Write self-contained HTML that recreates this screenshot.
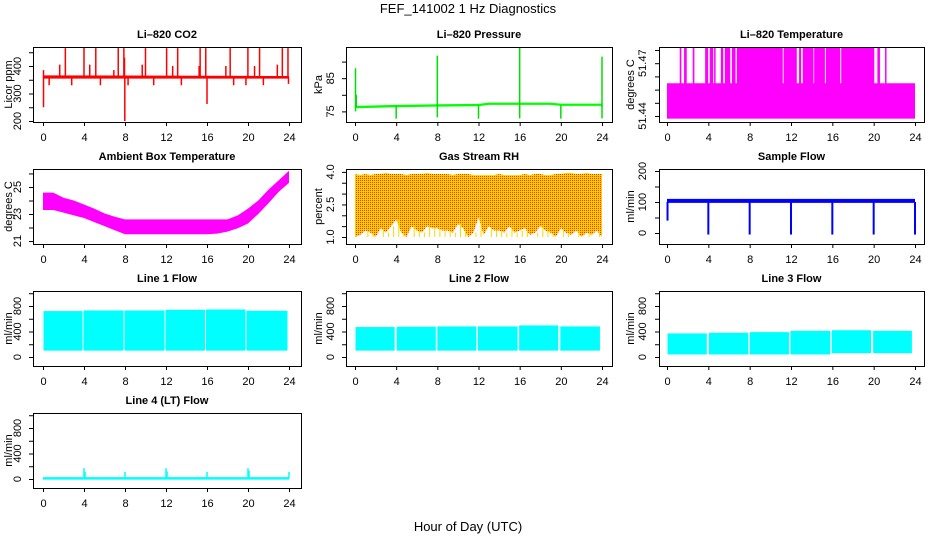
<!DOCTYPE html>
<html><head><meta charset="utf-8"><style>
html,body{margin:0;padding:0;background:#fff;}
svg{display:block;font-family:"Liberation Sans",sans-serif;}
</style></head><body>
<svg id="chart" width="936" height="540" viewBox="0 0 936 540">
<defs>
<pattern id="rhPat" width="2" height="2" patternUnits="userSpaceOnUse">
<rect width="2" height="2" fill="#ffd000"/><rect width="1" height="1" fill="#ff3000"/>
</pattern>
</defs>
<text x="468" y="13" font-size="13" text-anchor="middle">FEF_141002  1 Hz Diagnostics</text>
<text x="468" y="531" font-size="13" text-anchor="middle">Hour of Day (UTC)</text>
</svg>
<script>
// ---- data ----
const xTicks=[0,4,8,12,16,20,24];
// CO2
const co2BaseTimes=[0,24];
const co2BaseLow=[354,354];
const co2BaseHigh=[366,364];
const co2UpTimes=[2.18,4.0,5.15,7.34,7.89,10.0,12.06,13.14,15.33,15.88,18.26,19.99,21.13,23.35,23.9,1.63,4.56,6.91,9.68,12.65,15.23,17.84,20.64,22.86,7.95,0.05];
const co2UpValues=[465,468,465,465,465,465,465,465,465,465,465,468,465,465,465,405,405,385,405,400,400,400,400,405,430,385];
const co2DownTimes=[0.05,0.6,2.8,5.6,7.98,8.3,10.8,13.5,16.0,18.6,19.8,21.5,23.95];
const co2DownValues=[250,330,330,330,200,330,330,330,262,330,330,330,335];
const co2Ticks=[200,250,300,350,400,450];
const co2Labels=["200","","300","","400",""];
// Pressure
const presTimes=[0,4,8,12,13,16,19,20,24];
const presBase=[76.3,76.6,76.8,76.9,77.3,77.3,77.3,77.0,77.0];
const presUpTimes=[0.05,8.0,16.0,24.0,0.12];
const presUpValues=[88,91.8,94.4,91.5,80];
const presDownTimes=[0.05,4,8,12,16,20,24];
const presDownValues=[75,72.8,73.2,72.8,72.9,72.8,72.9];
const presTicks=[75,80,85,90];
const presLabels=["75","","85",""];
// Li-820 temperature
const tempLow=51.4586;
const tempHigh=51.479;
const tempHighStart=[1.23,1.65,2.49,3.69,4.14,4.56,5.21,5.6,6.28,6.76,11.29,12.78,13.14,14.24,15.37,16.86,20.36,21.1];
const tempHighEnd=[1.39,1.91,2.65,3.98,4.47,4.66,5.44,6.12,6.63,11.2,12.56,12.98,14.17,15.28,16.76,20.06,20.61,21.2];
const tempTicks=[51.44,51.4475,51.455,51.4625,51.47,51.4775];
const tempLabels=["51.44","","","","51.47",""];
// Ambient box temperature
const ambTimes=[0,1,2,3,4,5,6,7,8,9,10,11,12,13,14,15,16,17,18,19,20,21,22,23,24];
const ambHigh=[24.58,24.58,24.2,24.0,23.7,23.4,23.05,22.8,22.6,22.6,22.6,22.6,22.6,22.6,22.6,22.6,22.6,22.6,22.6,22.9,23.4,24.0,24.8,25.5,26.2];
const ambLow=[23.3,23.3,23.1,22.9,22.7,22.4,22.1,21.8,21.5,21.5,21.5,21.5,21.5,21.5,21.5,21.5,21.5,21.55,21.7,21.95,22.3,23.0,23.8,24.65,25.3];
const ambTicks=[21,22,23,24,25,26];
const ambLabels=["21","","23","","25",""];
// Gas stream RH
const rhTimes=[0,0.5,1,1.5,2,2.5,3,3.5,4,4.5,5,5.5,6,6.5,7,7.5,8,8.5,9,9.5,10,10.5,11,11.5,12,12.5,13,13.5,14,14.5,15,15.5,16,16.5,17,17.5,18,18.5,19,19.5,20,20.5,21,21.5,22,22.5,23,23.5,24];
const rhLow=[1.0,1.1,1.3,1.2,1.0,1.4,1.2,1.5,1.8,1.2,1.0,1.5,1.3,1.2,1.5,1.4,1.4,1.3,1.3,1.2,1.6,1.4,1.0,1.2,1.9,1.1,1.5,1.3,1.3,1.2,1.5,1.2,1.3,1.4,1.1,1.2,1.5,1.3,1.2,1.0,1.4,1.2,1.1,1.3,1.0,1.2,1.1,1.3,1.0];
const rhTop=[3.9,3.85,3.9,3.85,3.9,3.9,3.95,3.9,3.9,3.9,3.85,3.9,3.9,3.9,3.95,3.9,3.9,3.9,3.9,3.85,3.9,3.9,3.9,3.85,3.85,3.85,3.85,3.85,3.9,3.85,3.85,3.85,3.85,3.9,3.85,3.9,3.9,3.85,3.85,3.9,3.9,3.95,3.95,3.9,3.9,3.95,3.9,3.9,3.9];
const rhTicks=[1.0,1.5,2.0,2.5,3.0,3.5,4.0];
const rhLabels=["1.0","","","2.5","","","4.0"];
// Sample flow
const sfBaseLow=97;
const sfBaseHigh=110;
const sfDropTimes=[0.05,4,8,12,16,20,24];
const sfDropValues=[40,-5,-5,-5,-5,-5,-5];
const sfTicks=[0,50,100,150,200];
const sfLabels=["0","","100","","200"];
// Line flows
const flowTicks=[0,200,400,600,800,1000];
const flowLabels=["0","","400","","800",""];
const l1Start=[0.05,3.95,7.95,11.95,15.9,19.85];
const l1End=[3.85,7.85,11.85,15.8,19.75,23.85];
const l1Top=[720,730,730,740,745,725];
const l1Bottom=[100,100,100,100,100,100];
const l2Start=[0.05,4.05,8.0,11.95,15.95,19.95];
const l2End=[3.85,7.85,11.8,15.8,19.75,23.8];
const l2Top=[470,475,480,480,495,480];
const l2Bottom=[100,100,100,100,100,100];
const l3Start=[0.05,4.05,8.0,11.95,15.95,19.95];
const l3End=[3.85,7.85,11.8,15.8,19.75,23.7];
const l3Top=[370,380,390,410,420,410];
const l3Bottom=[40,40,40,40,60,60];
const l4BaseLow=-10;
const l4BaseHigh=30;
const l4SpikeTimes=[4.0,4.1,8.0,12.0,12.1,16.0,20.0,20.1,24.0];
const l4SpikeValues=[170,110,110,170,120,110,170,130,110];

// ---- layout ----
const NS="http://www.w3.org/2000/svg";
const svg=document.getElementById('chart');
const cols=[{L:33,R:301,x0:43,x24:289,lab:21,tit:12},{L:346,R:612,x0:355,x24:602,lab:334,tit:322},{L:659,R:924,x0:667,x24:915,lab:646,tit:634}];
function el(parent,tag,attrs){const e=document.createElementNS(NS,tag);for(const k in attrs)e.setAttribute(k,attrs[k]);parent.appendChild(e);return e;}

function panel(name,col,row,title,ytitle,ymin,ymax,ticks,labels){
  const c=cols[col];const T=47+row*122,B=T+75;
  const g=el(svg,'g',{});
  
  
  const sx=t=>c.x0+t/24*(c.x24-c.x0);
  const sy=v=>B-(v-ymin)/(ymax-ymin)*(B-T);
  const plot=el(g,'g',{});
  
  
  const frame=el(g,'g',{});
  
  
  const box=el(frame,'rect',{x:c.L+0.5,y:T+0.5,width:c.R-c.L,height:B-T,fill:'none',stroke:'#000'});
  
  
  el(frame,'line',{x1:sx(0),x2:sx(24),y1:B+0.5,y2:B+0.5,stroke:'#000'});
  xTicks.forEach(t=>{
    el(frame,'line',{x1:sx(t)+0.5,x2:sx(t)+0.5,y1:B,y2:B+4,stroke:'#000'});
    const tx=el(frame,'text',{x:sx(t)+0.5,y:B+19,'font-size':11,'text-anchor':'middle'});
    tx.textContent=t;
    
    
  });
  ticks.forEach((v,i)=>{
    el(frame,'line',{x1:c.L-4,x2:c.L,y1:sy(v)+0.5,y2:sy(v)+0.5,stroke:'#000'});
    if(labels[i]){
      const tx=el(frame,'text',{x:c.lab,y:sy(v),'font-size':11,'text-anchor':'middle',transform:`rotate(-90 ${c.lab} ${sy(v)})`});
      tx.textContent=labels[i];
      
      
    }
  });
  const tt=el(frame,'text',{x:(c.L+c.R)/2,y:T-9,'font-size':11,'font-weight':'bold','text-anchor':'middle'});
  tt.textContent=title;
  
  
  const yt=el(frame,'text',{x:c.tit,y:(T+B)/2,'font-size':11,'text-anchor':'middle',transform:`rotate(-90 ${c.tit} ${(T+B)/2})`});
  yt.textContent=ytitle;
  
  
  return {g:plot,sx,sy};
}
function vbar(p,t,v1,v2,color,w,name){
  const y1=Math.min(p.sy(v1),p.sy(v2)),y2=Math.max(p.sy(v1),p.sy(v2));
  const r=el(p.g,'rect',{x:p.sx(t)-w/2,y:y1,width:w,height:Math.max(1,y2-y1),fill:color});
  
  
}
function band(p,times,lo,hi,fill,name){
  let d='M'+times.map((t,i)=>p.sx(t)+','+p.sy(hi[i])).join('L');
  for(let i=times.length-1;i>=0;i--)d+='L'+p.sx(times[i])+','+p.sy(lo[i]);
  const path=el(p.g,'path',{d:d+'Z',fill:fill});
  
  
}

// CO2
let p=panel('co2',0,0,'Li–820 CO2','Licor ppm',196.4,469.1,co2Ticks,co2Labels);
band(p,co2BaseTimes,co2BaseLow,co2BaseHigh,'#ff0000','co2-baseline');
co2UpTimes.forEach((t,i)=>vbar(p,t,360,co2UpValues[i],'#ff0000',1.5,'co2-spike'));
co2DownTimes.forEach((t,i)=>vbar(p,t,360,co2DownValues[i],'#ff0000',1.5,'co2-dip'));

// Pressure
p=panel('pressure',1,0,'Li–820 Pressure','kPa',71.8,94.4,presTicks,presLabels);
band(p,presTimes,presBase.map(v=>v-0.35),presBase.map(v=>v+0.35),'#00ff00','pressure-baseline');
presUpTimes.forEach((t,i)=>vbar(p,t,presBase[0],presUpValues[i],'#00e000',1.5,'pressure-spike'));
presDownTimes.forEach((t,i)=>vbar(p,t,76.8,presDownValues[i],'#00e000',1.5,'pressure-dip'));

// Li-820 temperature
p=panel('li820-temp',2,0,'Li–820 Temperature','degrees C',51.4366,51.4792,tempTicks,tempLabels);
{const r=el(p.g,'rect',{x:p.sx(0),y:p.sy(tempLow),width:p.sx(24)-p.sx(0),height:p.sy(51.4385)-p.sy(tempLow),fill:'#ff00ff'});

}
tempHighStart.forEach((s,i)=>{
  const r=el(p.g,'rect',{x:p.sx(s),y:p.sy(tempHigh),width:Math.max(1.5,p.sx(tempHighEnd[i])-p.sx(s)),height:p.sy(tempLow)-p.sy(tempHigh)+1,fill:'#ff00ff'});
  
  
});

// Ambient
p=panel('ambient-temp',0,1,'Ambient Box Temperature','degrees C',20.78,26.33,ambTicks,ambLabels);
band(p,ambTimes,ambLow,ambHigh,'#ff00ff','ambient-band');

// RH
p=panel('rh',1,1,'Gas Stream RH','percent',0.677,4.133,rhTicks,rhLabels);
band(p,rhTimes,rhLow,rhTop,'url(#rhPat)','rh-band');
rhTimes.forEach((t,i)=>{ if(rhLow[i]>1.1) vbar(p,t+0.25,rhLow[i],1.0,'#ffd800',1,'rh-dip'); });

// Sample flow
p=panel('sample-flow',2,1,'Sample Flow','ml/min',-35.5,206.5,sfTicks,sfLabels);
band(p,[0,24],[sfBaseLow,sfBaseLow],[sfBaseHigh,sfBaseHigh],'#0000ff','sample-flow-band');
sfDropTimes.forEach((t,i)=>vbar(p,t,100,sfDropValues[i],'#0000ff',2,'sample-flow-drop'));

// Line flows
function flowPanel(name,col,row,title,st,en,top,bot){
  const q=panel(name,col,row,title,'ml/min',-141,1035,flowTicks,flowLabels);
  st.forEach((s,i)=>{
    const r=el(q.g,'rect',{x:q.sx(s),y:q.sy(top[i]),width:q.sx(en[i])-q.sx(s),height:q.sy(bot[i])-q.sy(top[i]),fill:'#00ffff'});
    
    
  });
  return q;
}
flowPanel('line1-flow',0,2,'Line 1 Flow',l1Start,l1End,l1Top,l1Bottom);
flowPanel('line2-flow',1,2,'Line 2 Flow',l2Start,l2End,l2Top,l2Bottom);
flowPanel('line3-flow',2,2,'Line 3 Flow',l3Start,l3End,l3Top,l3Bottom);
p=panel('line4-flow',0,3,'Line 4 (LT) Flow','ml/min',-141,1035,flowTicks,flowLabels);
band(p,[0,24],[l4BaseLow,l4BaseLow],[l4BaseHigh,l4BaseHigh],'#00ffff','line4-baseline');
l4SpikeTimes.forEach((t,i)=>vbar(p,t,10,l4SpikeValues[i],'#00ffff',1.5,'line4-spike'));
</script>
</body></html>
